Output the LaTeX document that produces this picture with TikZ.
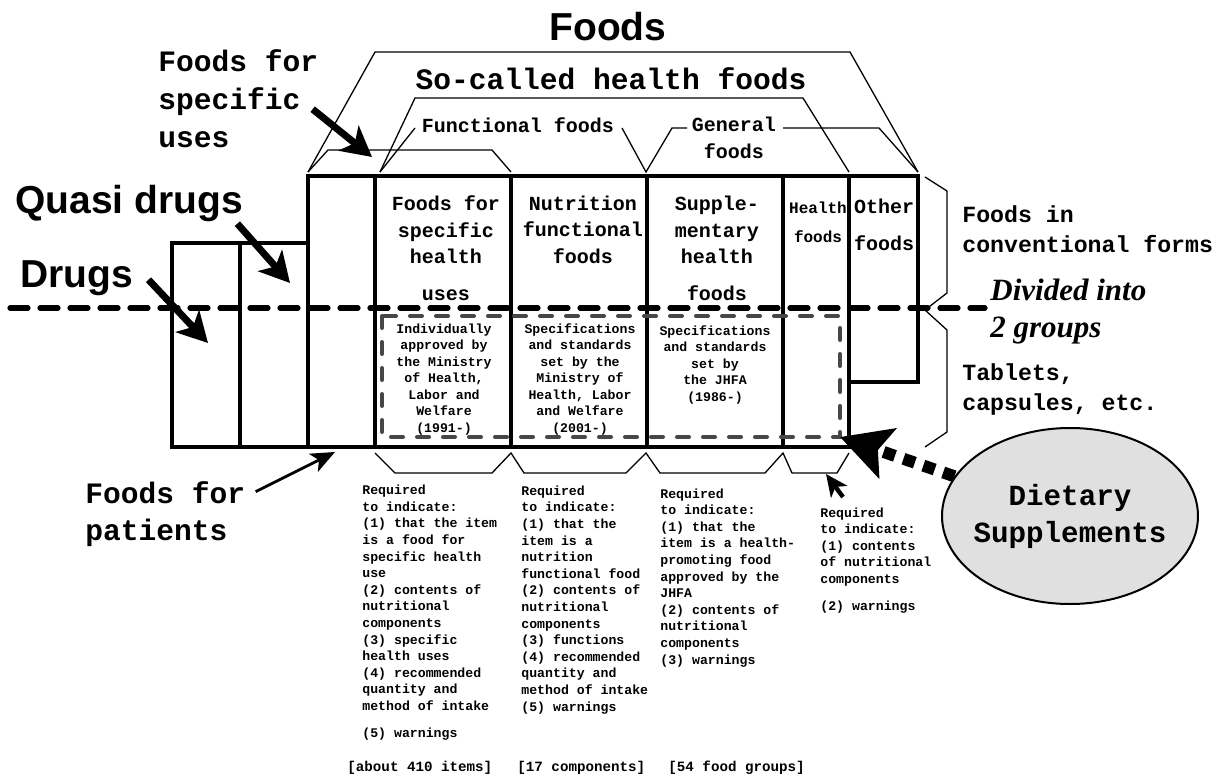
\documentclass[tikz,border=0pt]{standalone}
\usepackage{fontspec}
\setmainfont{Liberation Serif}
\newfontfamily\courfont{Liberation Mono}
\newfontfamily\arialfont{Liberation Sans}
\usetikzlibrary{arrows.meta,shapes.geometric,calc}

\tikzset{
  boxline/.style={line width=2pt},
  brackline/.style={line width=0.65pt},
  divline/.style={line width=2.6pt, line cap=round, dash pattern=on 9pt off 6pt},
  grpline/.style={line width=2pt, line cap=round, draw=black!72, dash pattern=on 6pt off 7pt},
  bigarrow/.style={line width=3.5pt, -{Stealth[length=15pt,width=16pt,inset=4pt]}},
  thinarrow/.style={line width=1.4pt, -{Stealth[length=12pt,width=10pt,inset=3pt]}},
  midarrow/.style={line width=2.2pt, -{Stealth[length=11pt,width=10pt,inset=3pt]}},
  dotarrow/.style={line width=6pt, dash pattern=on 6pt off 4.5pt, -{Stealth[length=25pt,width=26pt,inset=5pt]}},
  lbl/.style={inner sep=0pt},
  sanslbl/.style={lbl, font=\arialfont\bfseries\fontsize{19.5}{23}\selectfont},
  biglbl/.style={lbl, align=left, font=\courfont\bfseries\fontsize{14.8}{19}\selectfont},
  midlbl/.style={lbl, align=left, font=\courfont\bfseries\fontsize{11.6}{15}\selectfont},
  colhead/.style={lbl, align=center, anchor=base, font=\courfont\bfseries\fontsize{10}{13.25}\selectfont},
  smalltxt/.style={lbl, align=center, anchor=base, font=\courfont\bfseries\fontsize{6.6}{8.25}\selectfont},
  reqtxt/.style={lbl, align=left, anchor=base west, font=\courfont\bfseries\fontsize{6.6}{8.3}\selectfont},
}

\begin{document}
\begin{tikzpicture}[x=0.5pt, y=-0.5pt]
  \useasboundingbox (0,0) rectangle (1212,776);

  % the groups
  \draw[boxline] (172,243) rectangle (308,447);
  \draw[boxline] (240,243) -- (240,447);
  \draw[boxline] (308,176) rectangle (849,447);
  \draw[boxline] (849,176) -| (918,382) -- (849,382);
  \foreach \x in {375,511,647,783}
    \draw[boxline] (\x,176) -- (\x,447);

  % brackets
  \draw[brackline] (308,172) -- (375,52) -- (850,52) -- (918,172);
  \draw[brackline] (380,172) -- (415,98) -- (803,98) -- (849,172);
  \draw[brackline] (308,172) -- (328,150) -- (492,150) -- (511,172);
  \draw[brackline] (380,172) -- (415,128);
  \draw[brackline] (622,128) -- (646,172) -- (672,128) -- (687,128);
  \draw[brackline] (783,128) -- (879,128) -- (918,172);
  \draw[brackline] (375,453) -- (395,473) -- (492,473) -- (511,453) -- (524,473) -- (626,473)
    -- (646,453) -- (660,473) -- (765,473) -- (783,453) -- (792,473) -- (837,473) -- (849,453);
  \draw[brackline] (925,177) -- (947,191) -- (947,293) -- (925,310) -- (947,330) -- (947,432) -- (925,447);

  \draw[divline] (10,308) -- (985,308);
  \draw[grpline] (382,316) rectangle (840,437);

  % titles (base = last line)
  \node[sanslbl, anchor=base] (foods) at (608,40) {Foods};
  \node[biglbl, anchor=base] (shf) at (611,90) {So-called health foods};
  \node[colhead] (ff) at (518,132) {Functional foods};
  \node[colhead] (gf) at (734,158) {General\\foods};
  \node[biglbl, anchor=base west] (fsu) at (158,147) {Foods for\\specific\\uses};
  \node[sanslbl, anchor=base west] (qd) at (15,213) {Quasi drugs};
  \node[sanslbl, anchor=base west] (dr) at (20,287) {Drugs};
  \node[biglbl, anchor=base west, font=\courfont\bfseries\fontsize{14.8}{18.5}\selectfont] (pat) at (85,540) {Foods for\\patients};
  \node[midlbl, anchor=base west] (conv) at (962,252) {Foods in\\conventional forms};
  \node[midlbl, anchor=base west] (tab) at (962,410) {Tablets,\\capsules, etc.};
  \node[lbl, anchor=base west, align=left, font=\bfseries\itshape\fontsize{15.5}{18.5}\selectfont] (div) at (990,337) {Divided into\\2 groups};

  % columns
  \node[colhead] (c1) at (446,300) {Foods for\\specific\\health\\[5pt]uses};
  \node[colhead] (c2) at (583,263) {Nutrition\\functional\\foods};
  \node[colhead] (c3) at (717,300) {Supple-\\mentary\\health\\[5pt]foods};
  \node[colhead, font=\courfont\bfseries\fontsize{8}{14.5}\selectfont] (c4) at (818,242) {Health\\foods};
  \node[colhead, font=\courfont\bfseries\fontsize{10}{18.5}\selectfont] (c5) at (884,250) {Other\\foods};

  \node[smalltxt] (g1) at (444,432) {Individually\\approved by\\the Ministry\\of Health,\\Labor and\\Welfare\\(1991-)};
  \node[smalltxt] (g2) at (580,432) {Specifications\\and standards\\set by the\\Ministry of\\Health, Labor\\and Welfare\\(2001-)};
  \node[smalltxt] (g3) at (715,401) {Specifications\\and standards\\set by\\the JHFA\\(1986-)};

  % requirements
  \node[reqtxt] (r1) at (362,737) {Required\\to indicate:\\(1) that the item\\is a food for\\specific health\\use\\(2) contents of\\nutritional\\components\\(3) specific\\health uses\\(4) recommended\\quantity and\\method of intake\\[5pt](5) warnings};
  \node[reqtxt] (r2) at (521,711) {Required\\to indicate:\\(1) that the\\item is a\\nutrition\\functional food\\(2) contents of\\nutritional\\components\\(3) functions\\(4) recommended\\quantity and\\method of intake\\(5) warnings};
  \node[reqtxt] (r3) at (660,664) {Required\\to indicate:\\(1) that the\\item is a health-\\promoting food\\approved by the\\JHFA\\(2) contents of\\nutritional\\components\\(3) warnings};
  \node[reqtxt] (r4) at (820,610) {Required\\to indicate:\\(1) contents\\of nutritional\\components\\[5pt](2) warnings};
  \node[reqtxt, font=\courfont\bfseries\fontsize{7.1}{8.5}\selectfont] (n1) at (347,771) {[about 410 items]};
  \node[reqtxt, font=\courfont\bfseries\fontsize{7.1}{8.5}\selectfont] (n2) at (517,771) {[17 components]};
  \node[reqtxt, font=\courfont\bfseries\fontsize{7.1}{8.5}\selectfont] (n3) at (668,771) {[54 food groups]};

  % dietary supplements
  \node[ellipse, draw, line width=1pt, fill=black!12, minimum width=128pt, minimum height=88pt] (ds) at (1070,516) {};
  \node[biglbl, align=center, font=\courfont\bfseries\fontsize{14.6}{18.5}\selectfont] (dstext) at (ds.center) {Dietary\\Supplements};

  % arrows
  \coordinate (fsutip) at (372,157);
  \coordinate (qdtip) at (290,283);
  \coordinate (drtip) at (208,343);
  \coordinate (pattip) at (335,452);
  \coordinate (r4tip) at (826,474);
  \coordinate (dstip) at (840,437);
  \draw[bigarrow] ($(fsu.east)+(-6,11)$) -- (fsutip);
  \draw[bigarrow] ($(qd.south east)+(-6,2)$) -- (qdtip);
  \draw[bigarrow] ($(dr.east)+(15,2)$) -- (drtip);
  \draw[thinarrow] ($(pat.north east)+(10,11)$) -- (pattip);
  \draw[midarrow] ($(r4.north west)+(23,-10)$) -- (r4tip);
  \draw[dotarrow] (ds) -- (dstip);
\end{tikzpicture}
\end{document}
